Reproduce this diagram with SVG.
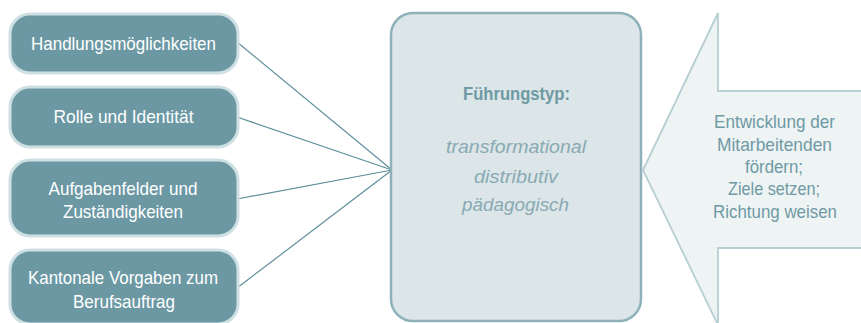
<svg xmlns="http://www.w3.org/2000/svg" width="861" height="323" viewBox="0 0 861 323">
<style>
.lb{fill:#6b98a3;stroke:#cfe0e4;stroke-width:3}
.lt{fill:#ffffff;font-family:"Liberation Sans","Open Sans",sans-serif;font-size:19px;text-anchor:middle}
.ct{fill:#6f9aa4;font-family:"Liberation Sans","Open Sans",sans-serif;font-size:19px;text-anchor:middle}
.it{fill:#88aab3;font-style:italic}
.con{stroke:#5f8f9b;stroke-width:1.2;fill:none}
</style>
<rect width="861" height="323" fill="#ffffff"/>
<g id="connectors">
<line class="con" x1="237" y1="42" x2="392" y2="170"/>
<line class="con" x1="237" y1="117" x2="392" y2="170"/>
<line class="con" x1="237" y1="199" x2="392" y2="170"/>
<line class="con" x1="237" y1="288" x2="392" y2="170"/>
</g>
<g id="n1">
<rect class="lb" x="10" y="14" width="228" height="59" rx="20"/>
<text class="lt" x="123.5" y="50" textLength="185" lengthAdjust="spacingAndGlyphs">Handlungsmöglichkeiten</text>
</g>
<g id="n2">
<rect class="lb" x="10" y="87" width="228" height="60" rx="20"/>
<text class="lt" x="123.5" y="123" textLength="140" lengthAdjust="spacingAndGlyphs">Rolle und Identität</text>
</g>
<g id="n3">
<rect class="lb" x="10" y="160" width="228" height="76" rx="20"/>
<text class="lt" x="123" y="195" textLength="149" lengthAdjust="spacingAndGlyphs">Aufgabenfelder und</text>
<text class="lt" x="123" y="218" textLength="120" lengthAdjust="spacingAndGlyphs">Zuständigkeiten</text>
</g>
<g id="n4">
<rect class="lb" x="10" y="250" width="228" height="74" rx="20"/>
<text class="lt" x="123" y="284" textLength="190" lengthAdjust="spacingAndGlyphs">Kantonale Vorgaben zum</text>
<text class="lt" x="124" y="308" textLength="102" lengthAdjust="spacingAndGlyphs">Berufsauftrag</text>
</g>
<g id="center">
<rect x="391" y="13" width="250" height="308" rx="22" fill="#dce5e8" stroke="#8fb1ba" stroke-width="2.5"/>
<text class="ct" x="516.5" y="100" font-weight="bold" textLength="107" lengthAdjust="spacingAndGlyphs">Führungstyp:</text>
<text class="ct it" x="516" y="153" textLength="140" lengthAdjust="spacingAndGlyphs">transformational</text>
<text class="ct it" x="516" y="183" textLength="84" lengthAdjust="spacingAndGlyphs">distributiv</text>
<text class="ct it" x="515.5" y="211" textLength="107" lengthAdjust="spacingAndGlyphs">pädagogisch</text>
</g>
<g id="arrow">
<path d="M643 170 L718 13 L718 91 L863 91 L863 248 L718 248 L718 325 Z" fill="#eef3f4" stroke="#b7ced3" stroke-width="1.8"/>
<text class="ct" x="774.5" y="128" textLength="121" lengthAdjust="spacingAndGlyphs">Entwicklung der</text>
<text class="ct" x="774.5" y="151" textLength="115" lengthAdjust="spacingAndGlyphs">Mitarbeitenden</text>
<text class="ct" x="774" y="173" textLength="58" lengthAdjust="spacingAndGlyphs">fördern;</text>
<text class="ct" x="774" y="195" textLength="92" lengthAdjust="spacingAndGlyphs">Ziele setzen;</text>
<text class="ct" x="775" y="218" textLength="124" lengthAdjust="spacingAndGlyphs">Richtung weisen</text>
</g>
</svg>
